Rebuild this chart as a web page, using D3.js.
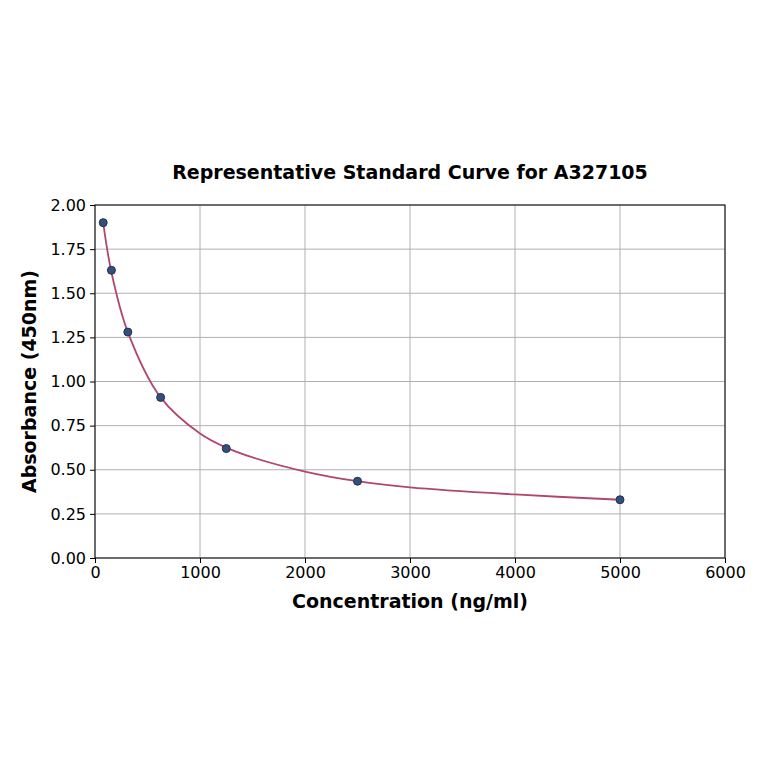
<!DOCTYPE html>
<html>
<head>
<meta charset="utf-8">
<script src="https://cdn.jsdelivr.net/npm/d3@7"></script>
<style>
  body { margin: 0; background: #fff; }
  text { font-family: "DejaVu Sans", sans-serif; }
</style>
</head>
<body>
<div id="chart"></div>
<script>
// standard points
var concentration = [78.125, 156.25, 312.5, 625, 1250, 2500, 5000];
var absorbance = [1.90, 1.63, 1.28, 0.91, 0.62, 0.435, 0.33];

// fitted curve
var fitConc = [78.125, 156.25, 312.5, 625, 1000, 1250, 1500, 2000, 2500, 3000, 4000, 5000];
var fitAbs = [1.90, 1.62, 1.28, 0.91, 0.705, 0.625, 0.57, 0.49, 0.435, 0.40, 0.36, 0.33];

var xTicks = [0, 1000, 2000, 3000, 4000, 5000, 6000];
var yTicks = [0, 0.25, 0.5, 0.75, 1.0, 1.25, 1.5, 1.75, 2.0];

var width = 764, height = 764;
var margin = {top: 205, right: 39, bottom: 206, left: 95};

var svg = d3.select("#chart")
	.append("svg")
	.attr("width", width)
	.attr("height", height);

var x = d3.scaleLinear()
	.domain([0, 6000])
	.range([margin.left, width - margin.right]);

var y = d3.scaleLinear()
	.domain([0, 2])
	.range([height - margin.bottom, margin.top]);

// grid
svg.append("g")
	.selectAll("line")
	.data(xTicks)
	.enter().append("line")
	.attr("x1", d => x(d)).attr("x2", d => x(d))
	.attr("y1", y(0)).attr("y2", y(2))
	.attr("stroke", "#b0b0b0")
	.attr("stroke-width", 1);

svg.append("g")
	.selectAll("line")
	.data(yTicks)
	.enter().append("line")
	.attr("x1", x(0)).attr("x2", x(6000))
	.attr("y1", d => y(d)).attr("y2", d => y(d))
	.attr("stroke", "#b0b0b0")
	.attr("stroke-width", 1);

// axes
var xAxis = svg.append("g")
	.attr("transform", "translate(0," + y(0) + ")")
	.call(d3.axisBottom(x).tickValues(xTicks).tickFormat(d3.format("d")).tickSizeOuter(0).tickSize(5).tickPadding(4));

var yAxis = svg.append("g")
	.attr("transform", "translate(" + x(0) + ",0)")
	.call(d3.axisLeft(y).tickValues(yTicks).tickFormat(d3.format(".2f")).tickSizeOuter(0).tickSize(5).tickPadding(4));

[xAxis, yAxis].forEach(function(a) {
	a.select(".domain").remove();
	a.selectAll("text").style("font-size", "16px").attr("fill", "#000");
	a.selectAll("line").attr("stroke", "#000");
});

// frame
svg.append("rect")
	.attr("x", x(0))
	.attr("y", y(2))
	.attr("width", x(6000) - x(0))
	.attr("height", y(0) - y(2))
	.attr("fill", "none")
	.attr("stroke", "#000")
	.attr("stroke-width", 1);

// fitted curve
var fitData = fitConc.map((c, i) => [c, fitAbs[i]]);
svg.append("path")
	.datum(fitData)
	.attr("fill", "none")
	.attr("stroke", "#b2466c")
	.attr("stroke-width", 1.8)
	.attr("d", d3.line()
		.x(d => x(d[0]))
		.y(d => y(d[1]))
		.curve(d3.curveCatmullRom.alpha(0.5)));

// points
svg.append("g")
	.selectAll("circle")
	.data(concentration)
	.enter().append("circle")
	.attr("cx", d => x(d))
	.attr("cy", (d, i) => y(absorbance[i]))
	.attr("r", 4)
	.attr("fill", "#34507a")
	.attr("stroke", "#1f3050")
	.attr("stroke-width", 1);

// titles
svg.append("text")
	.attr("x", (x(0) + x(6000)) / 2)
	.attr("y", 179)
	.attr("text-anchor", "middle")
	.style("font-size", "19px")
	.style("font-weight", "bold")
	.text("Representative Standard Curve for A327105");

svg.append("text")
	.attr("x", (x(0) + x(6000)) / 2)
	.attr("y", 608)
	.attr("text-anchor", "middle")
	.style("font-size", "19px")
	.style("font-weight", "bold")
	.text("Concentration (ng/ml)");

svg.append("text")
	.attr("transform", "translate(36," + ((y(0) + y(2)) / 2) + ") rotate(-90)")
	.attr("text-anchor", "middle")
	.style("font-size", "19px")
	.style("font-weight", "bold")
	.text("Absorbance (450nm)");
</script>
</body>
</html>
